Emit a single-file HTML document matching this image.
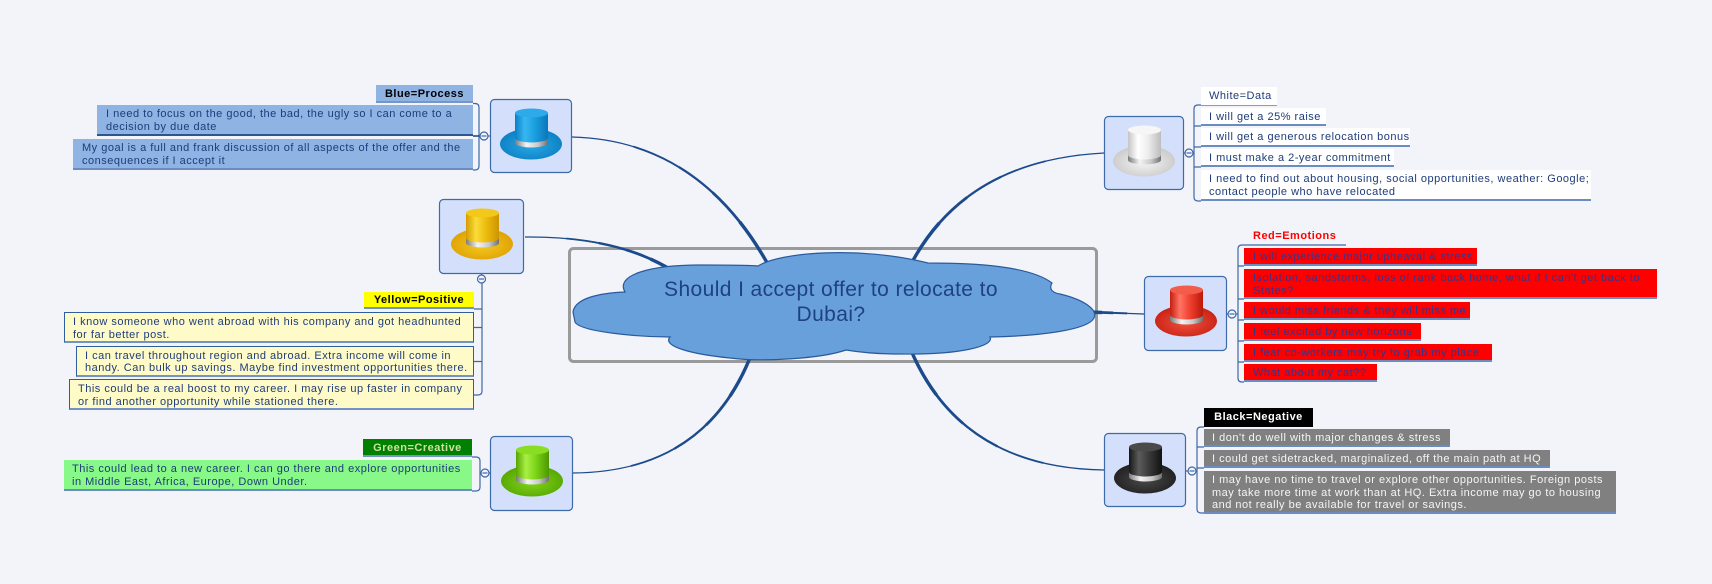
<!DOCTYPE html>
<html><head><meta charset="utf-8"><style>
html,body{margin:0;padding:0}
body{width:1712px;height:584px;background:#f3f4f9;position:relative;overflow:hidden;font-family:"Liberation Sans",sans-serif}
.it{position:absolute;box-sizing:border-box;white-space:nowrap;font-family:"Liberation Sans",sans-serif;font-size:11px;letter-spacing:.5px;color:#1e3c7a;border-bottom:2px solid #6a8cc0;padding-left:8px;line-height:16px;padding-top:1px}
.two{line-height:13px;padding-top:2.5px}
.three{line-height:12.6px;padding-top:3px}
.lb{font-weight:bold;text-align:center;padding-left:0}
.yb{background:#fffbc8;border:1px solid #2f5e9e;border-bottom:2px solid #7393c3;padding-left:8px}
.wh{background:#fff}
.rd{background:#ff0000;color:#3a3288;padding-left:9px}
.bk{background:#808080;color:#f5f5f5}
#ctr{position:absolute;left:565px;top:277px;width:532px;text-align:center;font-size:21px;line-height:25px;letter-spacing:.4px;color:#1f4183;white-space:nowrap}
</style></head><body>
<svg width="1712" height="584" style="position:absolute;left:0;top:0" xmlns="http://www.w3.org/2000/svg">
<defs>
<linearGradient id="cB" x1="0" x2="1"><stop offset="0" stop-color="#0a7fc4"/><stop offset=".3" stop-color="#38b8f2"/><stop offset=".6" stop-color="#1a9ee0"/><stop offset="1" stop-color="#0a76ba"/></linearGradient>
<radialGradient id="bB" cx=".5" cy=".55" r=".6"><stop offset="0" stop-color="#28a8e8"/><stop offset="1" stop-color="#0a7cbe"/></radialGradient>
<linearGradient id="cY" x1="0" x2="1"><stop offset="0" stop-color="#d49c00"/><stop offset=".3" stop-color="#fadc38"/><stop offset=".6" stop-color="#eebc10"/><stop offset="1" stop-color="#cc9400"/></linearGradient>
<radialGradient id="bY" cx=".5" cy=".55" r=".6"><stop offset="0" stop-color="#f6c820"/><stop offset="1" stop-color="#dc9e00"/></radialGradient>
<linearGradient id="cG" x1="0" x2="1"><stop offset="0" stop-color="#56a400"/><stop offset=".3" stop-color="#aaf044"/><stop offset=".6" stop-color="#7cd418"/><stop offset="1" stop-color="#4c9800"/></linearGradient>
<radialGradient id="bG" cx=".5" cy=".55" r=".6"><stop offset="0" stop-color="#80d418"/><stop offset="1" stop-color="#52a200"/></radialGradient>
<linearGradient id="cW" x1="0" x2="1"><stop offset="0" stop-color="#c4c4c4"/><stop offset=".3" stop-color="#ffffff"/><stop offset=".6" stop-color="#eeeeee"/><stop offset="1" stop-color="#bcbcbc"/></linearGradient>
<radialGradient id="bW" cx=".5" cy=".55" r=".6"><stop offset="0" stop-color="#f4f4f4"/><stop offset="1" stop-color="#c6c6c6"/></radialGradient>
<linearGradient id="cR" x1="0" x2="1"><stop offset="0" stop-color="#c41e10"/><stop offset=".3" stop-color="#ff7464"/><stop offset=".6" stop-color="#f04030"/><stop offset="1" stop-color="#bc1808"/></linearGradient>
<radialGradient id="bR" cx=".5" cy=".55" r=".6"><stop offset="0" stop-color="#f25040"/><stop offset="1" stop-color="#c41e10"/></radialGradient>
<linearGradient id="cK" x1="0" x2="1"><stop offset="0" stop-color="#161616"/><stop offset=".3" stop-color="#5c5c5c"/><stop offset=".6" stop-color="#3a3a3a"/><stop offset="1" stop-color="#121212"/></linearGradient>
<radialGradient id="bK" cx=".5" cy=".55" r=".6"><stop offset="0" stop-color="#4a4a4a"/><stop offset="1" stop-color="#1c1c1c"/></radialGradient>
<linearGradient id="band" x1="0" x2="1"><stop offset="0" stop-color="#7a7a7a"/><stop offset=".35" stop-color="#f4f4f4"/><stop offset=".7" stop-color="#c8c8c8"/><stop offset="1" stop-color="#707070"/></linearGradient>
</defs>

<!-- frame -->
<rect x="569.5" y="248.5" width="527" height="113" rx="4" fill="none" stroke="#9a9a9a" stroke-width="3"/>

<!-- connectors -->
<g fill="none" stroke="#1c4b8c" stroke-linecap="butt">
 <path d="M572,137 Q700,140 770,268" pathLength="100" stroke-width="1.3"/>
 <path d="M572,137 Q700,140 770,268" pathLength="100" stroke-width="1.8" stroke-dasharray="0 25 75"/>
 <path d="M572,137 Q700,140 770,268" pathLength="100" stroke-width="2.3" stroke-dasharray="0 45 55"/>
 <path d="M572,137 Q700,140 770,268" pathLength="100" stroke-width="2.8" stroke-dasharray="0 62 38"/>
 <path d="M572,137 Q700,140 770,268" pathLength="100" stroke-width="3.4" stroke-dasharray="0 78 22"/>

 <path d="M525,237 Q625,236 682,277" pathLength="100" stroke-width="1.3"/>
 <path d="M525,237 Q625,236 682,277" pathLength="100" stroke-width="1.8" stroke-dasharray="0 25 75"/>
 <path d="M525,237 Q625,236 682,277" pathLength="100" stroke-width="2.3" stroke-dasharray="0 45 55"/>
 <path d="M525,237 Q625,236 682,277" pathLength="100" stroke-width="2.8" stroke-dasharray="0 62 38"/>
 <path d="M525,237 Q625,236 682,277" pathLength="100" stroke-width="3.4" stroke-dasharray="0 78 22"/>

 <path d="M573,473 Q708,472 753,350" pathLength="100" stroke-width="1.3"/>
 <path d="M573,473 Q708,472 753,350" pathLength="100" stroke-width="1.8" stroke-dasharray="0 25 75"/>
 <path d="M573,473 Q708,472 753,350" pathLength="100" stroke-width="2.3" stroke-dasharray="0 45 55"/>
 <path d="M573,473 Q708,472 753,350" pathLength="100" stroke-width="2.8" stroke-dasharray="0 62 38"/>
 <path d="M573,473 Q708,472 753,350" pathLength="100" stroke-width="3.4" stroke-dasharray="0 78 22"/>

 <path d="M1104,153 Q965,160 910,266" pathLength="100" stroke-width="1.3"/>
 <path d="M1104,153 Q965,160 910,266" pathLength="100" stroke-width="1.8" stroke-dasharray="0 25 75"/>
 <path d="M1104,153 Q965,160 910,266" pathLength="100" stroke-width="2.3" stroke-dasharray="0 45 55"/>
 <path d="M1104,153 Q965,160 910,266" pathLength="100" stroke-width="2.8" stroke-dasharray="0 62 38"/>
 <path d="M1104,153 Q965,160 910,266" pathLength="100" stroke-width="3.4" stroke-dasharray="0 78 22"/>

 <path d="M1104,470 Q960,468 910,348" pathLength="100" stroke-width="1.3"/>
 <path d="M1104,470 Q960,468 910,348" pathLength="100" stroke-width="1.8" stroke-dasharray="0 25 75"/>
 <path d="M1104,470 Q960,468 910,348" pathLength="100" stroke-width="2.3" stroke-dasharray="0 45 55"/>
 <path d="M1104,470 Q960,468 910,348" pathLength="100" stroke-width="2.8" stroke-dasharray="0 62 38"/>
 <path d="M1104,470 Q960,468 910,348" pathLength="100" stroke-width="3.4" stroke-dasharray="0 78 22"/>

 <path d="M1144,314 L1088,312" pathLength="100" stroke-width="1.3"/>
 <path d="M1144,314 L1088,312" pathLength="100" stroke-width="2" stroke-dasharray="0 30 70"/>
 <path d="M1144,314 L1088,312" pathLength="100" stroke-width="2.7" stroke-dasharray="0 55 45"/>
 <path d="M1144,314 L1088,312" pathLength="100" stroke-width="3.4" stroke-dasharray="0 75 25"/>
</g>

<!-- cloud -->
<path d="M573,312 C575,298 600,293 625,292 C615,275 650,265 700,265 C730,265 750,265 758,266 C780,252 860,246 928,263 C975,263 1030,266 1052,283 C1048,290 1054,293 1060,294 C1085,300 1098,310 1094,318 C1088,330 1040,336 990,337 C995,346 960,355 900,354 C875,354 858,352 846,350 C820,359 760,362 730,358 C690,354 662,346 670,337 C640,337 580,332 575,322 Z" fill="#68a0dc" stroke="#2a5a9c" stroke-width="1.2"/>

<!-- brackets -->
<g fill="none" stroke="#3d68a8" stroke-width="1.2">
 <path d="M473,103.5 H475 Q479,103.5 479,107.5 V166 Q479,170 475,170 H473"/>
 <path d="M473,136 H480" stroke="#234f8f" stroke-width="1.6"/>
 <path d="M488,136 H490"/>
 <path d="M482,283 V391 Q482,395 478,395 H474"/>
 <path d="M474,309 H482 M474,327.5 H482 M474,361.5 H482"/>
 <path d="M481.5,274 V275"/>
 <path d="M472,457 H476 Q480,457 480,461 V487 Q480,491 476,491 H472"/>
 <path d="M480,473 H481 M489,473 H490"/>
 <path d="M1277,105 H1198 Q1194,105 1194,109 V197 Q1194,201 1198,201 H1201"/>
 <path d="M1194,126 H1201 M1194,147 H1201 M1194,167 H1201"/>
 <path d="M1184,153 H1185 M1193,153 H1194"/>
 <path d="M1346,245 H1242 Q1238,245 1238,249 V378 Q1238,382 1242,382 H1244"/>
 <path d="M1238,266 H1244 M1238,299 H1244 M1238,320 H1244 M1238,341 H1244 M1238,362 H1244"/>
 <path d="M1227,314 H1228 M1236,314 H1238"/>
 <path d="M1204,427 H1201 Q1197,427 1197,431 V509 Q1197,513 1201,513 H1204"/>
 <path d="M1197,447 H1204 M1197,468 H1204"/>
 <path d="M1186,471 H1188 M1196,471 H1197"/>
</g>
<!-- collapse circles -->
<g fill="#f3f4f9" stroke="#3d68a8" stroke-width="1.2">
 <circle cx="484" cy="136" r="4"/><path d="M481.5,136 H486.5"/>
 <circle cx="481.5" cy="279" r="4"/><path d="M479,279 H484"/>
 <circle cx="485" cy="473" r="4"/><path d="M482.5,473 H487.5"/>
 <circle cx="1189" cy="153" r="4"/><path d="M1186.5,153 H1191.5"/>
 <circle cx="1232" cy="314" r="4"/><path d="M1229.5,314 H1234.5"/>
 <circle cx="1192" cy="471" r="4"/><path d="M1189.5,471 H1194.5"/>
</g>

<!-- hat boxes -->
<g stroke="#3d6aa9" stroke-width="1.2" fill="#d4e0fb">
 <rect x="490.5" y="99.5" width="81" height="73" rx="4"/>
 <rect x="439.5" y="199.5" width="84" height="74" rx="4"/>
 <rect x="490.5" y="436.5" width="82" height="74" rx="4"/>
 <rect x="1104.5" y="116.5" width="79" height="73" rx="4"/>
 <rect x="1144.5" y="276.5" width="82" height="74" rx="4"/>
 <rect x="1104.5" y="433.5" width="81" height="73" rx="4"/>
</g>

<!-- hats -->
<g transform="translate(489,99)">
 <ellipse cx="42" cy="45" rx="31" ry="15.5" fill="url(#bB)"/>
 <path d="M26,14 V44 A16.5,4.5 0 0 0 59,44 V14 Z" fill="url(#cB)"/>
 <ellipse cx="42.5" cy="14" rx="16.5" ry="4.5" fill="#2eaaea"/>
 <path d="M26,39 V44 A16.5,4.5 0 0 0 59,44 V39 A16.5,4.5 0 0 1 26,39 Z" fill="url(#band)"/>
</g>
<g transform="translate(440,199)">
 <ellipse cx="42" cy="45" rx="31" ry="15.5" fill="url(#bY)"/>
 <path d="M26,14 V44 A16.5,4.5 0 0 0 59,44 V14 Z" fill="url(#cY)"/>
 <ellipse cx="42.5" cy="14" rx="16.5" ry="4.5" fill="#f4c818"/>
 <path d="M26,39 V44 A16.5,4.5 0 0 0 59,44 V39 A16.5,4.5 0 0 1 26,39 Z" fill="url(#band)"/>
</g>
<g transform="translate(490,436)">
 <ellipse cx="42" cy="45" rx="31" ry="15.5" fill="url(#bG)"/>
 <path d="M26,14 V44 A16.5,4.5 0 0 0 59,44 V14 Z" fill="url(#cG)"/>
 <ellipse cx="42.5" cy="14" rx="16.5" ry="4.5" fill="#8ade22"/>
 <path d="M26,39 V44 A16.5,4.5 0 0 0 59,44 V39 A16.5,4.5 0 0 1 26,39 Z" fill="url(#band)"/>
</g>
<g transform="translate(1102,116)">
 <ellipse cx="42" cy="45" rx="31" ry="15.5" fill="url(#bW)"/>
 <path d="M26,14 V44 A16.5,4.5 0 0 0 59,44 V14 Z" fill="url(#cW)"/>
 <ellipse cx="42.5" cy="14" rx="16.5" ry="4.5" fill="#f6f6f6"/>
 <path d="M26,39 V44 A16.5,4.5 0 0 0 59,44 V39 A16.5,4.5 0 0 1 26,39 Z" fill="url(#band)"/>
</g>
<g transform="translate(1144,276)">
 <ellipse cx="42" cy="45" rx="31" ry="15.5" fill="url(#bR)"/>
 <path d="M26,14 V44 A16.5,4.5 0 0 0 59,44 V14 Z" fill="url(#cR)"/>
 <ellipse cx="42.5" cy="14" rx="16.5" ry="4.5" fill="#f25c4a"/>
 <path d="M26,39 V44 A16.5,4.5 0 0 0 59,44 V39 A16.5,4.5 0 0 1 26,39 Z" fill="url(#band)"/>
</g>
<g transform="translate(1103,433)">
 <ellipse cx="42" cy="45" rx="31" ry="15.5" fill="url(#bK)"/>
 <path d="M26,14 V44 A16.5,4.5 0 0 0 59,44 V14 Z" fill="url(#cK)"/>
 <ellipse cx="42.5" cy="14" rx="16.5" ry="4.5" fill="#4a4a4a"/>
 <path d="M26,39 V44 A16.5,4.5 0 0 0 59,44 V39 A16.5,4.5 0 0 1 26,39 Z" fill="url(#band)"/>
</g>
</svg>

<div id="ctr">Should I accept offer to relocate to<br>Dubai?</div>

<!-- Blue -->
<div class="it lb" style="left:376px;top:85px;width:97px;height:18px;background:#8fb3e3;color:#000;border-bottom-color:#7496c8">Blue=Process</div>
<div class="it two" style="left:97px;top:105px;width:376px;height:31px;background:#8fb3e3;border-bottom-color:#2b5593;padding-left:9px">I need to focus on the good, the bad, the ugly so I can come to a<br>decision by due date</div>
<div class="it two" style="left:73px;top:139px;width:400px;height:31px;background:#8fb3e3;padding-left:9px">My goal is a full and frank discussion of all aspects of the offer and the<br>consequences if I accept it</div>

<!-- Yellow -->
<div class="it lb" style="left:364px;top:292px;width:110px;height:17px;background:#ffff00;color:#000;border-bottom-color:#7393c3;line-height:15px">Yellow=Positive</div>
<div class="it two yb" style="left:64px;top:312px;width:410px;height:31px">I know someone who went abroad with his company and got headhunted<br>for far better post.</div>
<div class="it two yb" style="left:76px;top:346px;width:398px;height:31px;line-height:12px">I can travel throughout region and abroad. Extra income will come in<br>handy. Can bulk up savings. Maybe find investment opportunities there.</div>
<div class="it two yb" style="left:69px;top:379px;width:405px;height:31px">This could be a real boost to my career. I may rise up faster in company<br>or find another opportunity while stationed there.</div>

<!-- Green -->
<div class="it lb" style="left:363px;top:439px;width:109px;height:18px;background:#008000;color:#cde0a0;border-bottom-color:#7393c3">Green=Creative</div>
<div class="it two" style="left:64px;top:460px;width:408px;height:31px;background:#88f888">This could lead to a new career. I can go there and explore opportunities<br>in Middle East, Africa, Europe, Down Under.</div>

<!-- White -->
<div class="it wh" style="left:1201px;top:87px;width:76px;height:18px;border-bottom-color:transparent">White=Data</div>
<div class="it wh" style="left:1201px;top:108px;width:125px;height:18px">I will get a 25% raise</div>
<div class="it wh" style="left:1201px;top:128px;width:209px;height:19px">I will get a generous relocation bonus</div>
<div class="it wh" style="left:1201px;top:149px;width:193px;height:18px">I must make a 2-year commitment</div>
<div class="it wh two" style="left:1201px;top:170px;width:390px;height:31px">I need to find out about housing, social opportunities, weather: Google;<br>contact people who have relocated</div>

<!-- Red -->
<div style="position:absolute;left:1253px;top:229px;font-size:11px;line-height:14px;font-weight:bold;color:#ff0000;letter-spacing:.5px;white-space:nowrap">Red=Emotions</div>
<div class="it rd" style="left:1244px;top:248px;width:233px;height:18px">I will experience major upheaval &amp; stress</div>
<div class="it rd two" style="left:1244px;top:269px;width:413px;height:30px">Isolation, sandstorms, loss of rank back home, what if I can't get back to<br>States?</div>
<div class="it rd" style="left:1244px;top:302px;width:226px;height:18px">I would miss friends &amp; they will miss me</div>
<div class="it rd" style="left:1244px;top:323px;width:177px;height:18px">I feel excited by new horizons</div>
<div class="it rd" style="left:1244px;top:344px;width:248px;height:18px">I fear co-workers may try to grab my place</div>
<div class="it rd" style="left:1244px;top:364px;width:133px;height:18px">What about my cat??</div>

<!-- Black -->
<div class="it lb" style="left:1204px;top:408px;width:109px;height:19px;background:#000;color:#fff;border-bottom-color:#000">Black=Negative</div>
<div class="it bk" style="left:1204px;top:429px;width:246px;height:18px">I don't do well with major changes &amp; stress</div>
<div class="it bk" style="left:1204px;top:450px;width:346px;height:18px">I could get sidetracked, marginalized, off the main path at HQ</div>
<div class="it bk three" style="left:1204px;top:471px;width:412px;height:43px">I may have no time to travel or explore other opportunities. Foreign posts<br>may take more time at work than at HQ. Extra income may go to housing<br>and not really be available for travel or savings.</div>
</body></html>
